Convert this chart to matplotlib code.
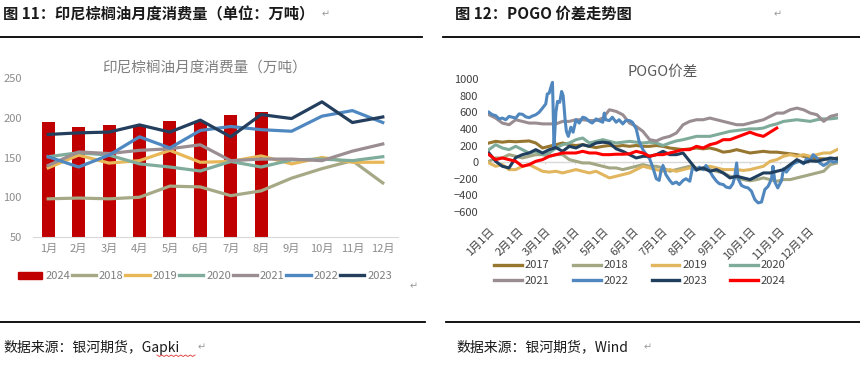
import numpy as np
import matplotlib
matplotlib.use('Agg')
import matplotlib.pyplot as plt
from matplotlib.lines import Line2D
from matplotlib.patches import Patch

plt.rcParams['font.family'] = ['Noto Sans CJK SC', 'DejaVu Sans']

# 图11 数据：印尼棕榈油月度消费量（万吨）
months = ['1月', '2月', '3月', '4月', '5月', '6月', '7月', '8月', '9月', '10月', '11月', '12月']
cons_2024 = [195, 188, 191, 190, 196, 195, 204, 207]
cons_2018 = [98, 99, 98, 100, 114, 113, 102, 108, 124, 136, 146, 118]
cons_2019 = [137, 153, 143, 146, 159, 144, 145, 152, 142, 150, 144, 144]
cons_2020 = [151, 156, 153, 142, 138, 133, 145, 138, 147, 148, 146, 151]
cons_2021 = [140, 157, 155, 159, 161, 166, 146, 148, 148, 146, 158, 167]
cons_2022 = [151, 138, 153, 176, 162, 184, 189, 185, 183, 202, 209, 194]
cons_2023 = [179, 181, 182, 191, 182, 197, 176, 204, 199, 220, 194, 201]

# 图12 数据：POGO价差（按周读取，第0天=1月1日）
week_days = np.arange(0, 365, 7)
pogo_2017 = [230, 250, 240, 250, 245, 250, 255, 230, 170, 190,
             210, 230, 210, 200, 210, 190, 175, 190, 200, 190,
             200, 190, 200, 190, 190, 200, 190, 170, 160, 150,
             160, 170, 160, 170, 150, 120, 130, 150, 130, 110,
             120, 130, 120, 120, 110, 100, 90, 70, 50, 40,
             40, 30, 50]
pogo_2018 = [10, 50, 50, 90, 70, 50, 70, 90, 90, 70,
             90, 90, 30, 10, -10, -10, -30, -50, -70, -70,
             -90, -70, -50, -30, -50, -50, -70, -110, -90, -70,
             -50, -70, -90, -90, -110, -130, -170, -190, -210, -225,
             -210, -190, -210, -230, -210, -210, -190, -170, -150, -130,
             -110, -30, -10]
pogo_2019 = [-10, -50, -30, -90, -90, -50, -30, -70, -110, -120,
             -110, -130, -110, -90, -110, -130, -110, -150, -190, -170,
             -150, -130, -90, -50, -70, -90, -110, -90, -110, -90,
             -70, -90, -70, -50, -70, -90, -90, -90, -100, -90,
             -70, -50, 10, 30, 70, 90, 70, 90, 70, 90,
             110, 110, 150]
pogo_2020 = [150, 210, 170, 150, 190, 150, 110, 130, 90, 110,
             170, 210, 230, 270, 290, 230, 250, 270, 250, 230,
             240, 250, 240, 230, 240, 230, 200, 230, 255, 270,
             290, 310, 310, 310, 330, 350, 370, 380, 390, 400,
             400, 410, 440, 460, 490, 500, 510, 500, 490, 510,
             520, 520, 530]
pogo_2021 = [570, 530, 470, 450, 510, 490, 470, 470, 460, 460,
             460, 490, 490, 510, 510, 500, 500, 530, 630, 610,
             570, 470, 430, 370, 270, 255, 290, 310, 350, 450,
             490, 510, 510, 530, 510, 490, 470, 450, 450, 470,
             490, 510, 550, 590, 590, 630, 650, 630, 590, 570,
             490, 550, 570]
pogo_2023 = [110, 10, -50, -70, 55, 90, 110, 150, 110, 150,
             175, 130, 190, 170, 210, 190, 230, 240, 230, 160,
             130, 90, 50, 70, 70, 90, 130, 90, 90, 110,
             10, -90, -70, -110, -90, -130, -190, -170, -190, -210,
             -170, -130, -130, -110, -90, -30, 30, -10, 15, 10,
             30, 50, 40]
pogo_2024 = [90, 30, 50, 30, 10, -50, -30, 10, 30, 70,
             90, 110, 110, 110, 130, 110, 110, 90, 90, 95,
             95, 100, 130, 110, 70, 90, 90, 110, 130, 150,
             150, 190, 170, 210, 230, 270, 270, 300, 330, 360,
             330, 310, 360, 410]
# 2022年波动剧烈，单独读取
days_2022 = [0, 3.5, 7, 10.5, 14, 17.5, 21, 24.5, 28, 31.5, 35, 38.5, 42, 45.5, 49, 52.5,
             56, 59.4, 61, 63, 64.7, 66.4, 67, 68, 70, 71.7, 74, 76, 77.6, 79.7, 81, 83,
             85.7, 88, 91, 94.4, 98, 101, 105, 108, 112, 115, 119, 120.6, 122, 126, 129,
             133, 136, 140, 143, 147, 150, 154, 157, 161, 164, 168, 171, 175, 178, 180,
             182, 185, 189, 192, 196, 199, 203, 206, 210, 213, 217, 220, 224, 227, 231,
             234, 238, 241, 245, 248, 252, 255, 257, 259, 260.5, 264, 267.5, 271, 274.5,
             278, 281.5, 285, 288.5, 292, 295.5, 297, 299, 302, 306, 308, 311, 315, 318,
             322, 325, 329, 332, 336, 339, 343, 346, 350, 353, 357, 360, 364]
pogo_2022 = [600, 570, 560, 520, 530, 510, 550, 540, 530, 580, 575, 545, 535, 555, 570, 600,
             650, 700, 820, 830, 900, 960, 700, 170, 600, 730, 720, 850, 800, 500, 370, 310,
             420, 360, 510, 470, 540, 530, 490, 470, 520, 500, 480, 590, 510, 500, 540,
             480, 510, 460, 500, 500, 480, 400, 250, 150, 100, 40, -50, -200, -220, -100,
             -40, -150, -220, -260, -240, -270, -220, -200, -230, -60, -100, -60, -90, -40,
             -110, -170, -230, -260, -270, -300, -310, -260, -180, -10, -200, -280, -300,
             -310, -350, -450, -490, -480, -330, -290, -200, -50, -240, -310, -220, -80,
             -120, -60, -20, 0, 10, -20, 40, 20, 90, 50, -10, -40, -20, 20, 0, 10]
tick_days = [0, 31, 59, 90, 120, 151, 181, 212, 243, 273, 304, 334]
tick_labels = ['1月1日', '2月1日', '3月1日', '4月1日', '5月1日', '6月1日',
               '7月1日', '8月1日', '9月1日', '10月1日', '11月1日', '12月1日']

W, H = 860, 370
fig = plt.figure(figsize=(W / 100, H / 100), dpi=100)


def fx(px):
    return px / W


def fy(py):
    return 1 - py / H


# 页面上的标题、分隔线、数据来源
fig.text(fx(3), fy(14), '图 11：印尼棕榈油月度消费量（单位：万吨）', fontsize=11,
         fontweight='bold', color='#1a1a1a', va='center', ha='left')
fig.text(fx(322), fy(14), '↵', fontsize=7, color='#999999', va='center')
fig.text(fx(455), fy(14), '图 12：POGO 价差走势图', fontsize=11,
         fontweight='bold', color='#1a1a1a', va='center', ha='left')
fig.text(fx(774), fy(14), '↵', fontsize=7, color='#999999', va='center')
for x0, x1, yy in [(0, 422, 37), (443, 860, 37), (0, 425, 322), (446, 860, 322)]:
    fig.add_artist(Line2D([fx(x0), fx(x1)], [fy(yy), fy(yy)], color='black', lw=1.3))
fig.text(fx(3), fy(347), '数据来源：银河期货，Gapki', fontsize=10, color='#1a1a1a', va='center')
fig.text(fx(198), fy(347), '↵', fontsize=7, color='#999999', va='center')
zz_x = np.linspace(157, 195, 17)
zz_y = 355 + np.where(np.arange(17) % 2 == 0, 0, 1.5)
fig.add_artist(Line2D(fx(zz_x), fy(zz_y), color='#e03030', lw=0.6))
fig.text(fx(456), fy(347), '数据来源：银河期货，Wind', fontsize=10, color='#1a1a1a', va='center')
fig.text(fx(644), fy(347), '↵', fontsize=7, color='#999999', va='center')
fig.text(fx(410), fy(286), '↵', fontsize=7, color='#999999', va='center')

# ---- 左图 ----
ax1 = fig.add_axes([fx(33), fy(237), fx(398 - 33), (237 - 78) / H])
x = np.arange(12)
ax1.bar(x[:len(cons_2024)], cons_2024, width=0.43, color='#C00000', zorder=2)
line_styles = [(cons_2018, '#A7A986', '2018'), (cons_2019, '#E8B757', '2019'),
               (cons_2020, '#80AC9C', '2020'), (cons_2021, '#9B8E93', '2021'),
               (cons_2022, '#4F88C1', '2022'), (cons_2023, '#243F5E', '2023')]
for vals, c, lab in line_styles:
    ax1.plot(x, vals, color=c, lw=2.3, zorder=3)
ax1.set_xlim(-0.5, 11.5)
ax1.set_ylim(50, 250)
ax1.set_yticks([50, 100, 150, 200, 250])
ax1.set_xticks(x)
ax1.set_xticklabels(months)
ax1.tick_params(length=0, labelsize=8, colors='#8C8C8C', pad=5)
ax1.tick_params(axis='y', pad=8)
for s in ['top', 'right', 'left']:
    ax1.spines[s].set_visible(False)
ax1.spines['bottom'].set_color('#D9D9D9')
ax1.set_title('印尼棕榈油月度消费量（万吨）', fontsize=10.5, color='#7F7F7F', pad=2, x=0.47, y=1.02)

handles1 = [Patch(color='#C00000')] + [Line2D([], [], color=c, lw=2.4) for _, c, _ in line_styles]
labels1 = ['2024'] + [lab for _, _, lab in line_styles]
leg1 = fig.legend(handles1, labels1, loc='center', bbox_to_anchor=(fx(205), fy(276)), ncol=7,
                  frameon=False, fontsize=8, handlelength=2.2, handletextpad=0.25,
                  columnspacing=0.15, handleheight=0.6)
for t in leg1.get_texts():
    t.set_color('#7F7F7F')

# ---- 右图 ----
ax2 = fig.add_axes([fx(488), fy(212), fx(838 - 488), (212 - 79) / H])
ax2.axhline(0, color='#D9D9D9', lw=1, zorder=1)
ax2.vlines(tick_days, -25, 0, color='#D9D9D9', lw=0.8, zorder=1)
series2 = [(week_days, pogo_2017, '#97762F', '2017'),
           (week_days, pogo_2018, '#A3A783', '2018'),
           (week_days, pogo_2019, '#E1B65E', '2019'),
           (week_days, pogo_2020, '#7EAB9A', '2020'),
           (week_days, pogo_2021, '#9A8D92', '2021'),
           (days_2022, pogo_2022, '#4F87BE', '2022'),
           (week_days, pogo_2023, '#203F5F', '2023'),
           (week_days[:len(pogo_2024)], pogo_2024, '#FF0000', '2024')]
for dd, vals, c, lab in series2:
    ax2.plot(dd, vals, color=c, lw=2.2, zorder=3)
ax2.set_xlim(-1, 365)
ax2.set_ylim(-600, 1000)
ax2.set_yticks(range(-600, 1001, 200))
ax2.set_xticks(tick_days)
ax2.set_xticklabels(tick_labels, rotation=45, ha='right', va='top', rotation_mode='anchor')
ax2.tick_params(length=0, labelsize=8, colors='#404040')
ax2.tick_params(axis='x', pad=10)
ax2.tick_params(axis='y', pad=7)
for s in ax2.spines.values():
    s.set_visible(False)
ax2.set_title('POGO价差', fontsize=10.5, color='#595959', pad=2, y=1.0)

# 图例按行排列：2017 2018 2019 2020 / 2021 2022 2023 2024
order = [0, 4, 1, 5, 2, 6, 3, 7]
handles2 = [Line2D([], [], color=series2[i][2], lw=2.4) for i in order]
labels2 = [series2[i][3] for i in order]
leg2 = fig.legend(handles2, labels2, loc='center', bbox_to_anchor=(fx(640), fy(273)), ncol=4,
                  frameon=False, fontsize=8, handlelength=2.5, handletextpad=0.25,
                  columnspacing=2.1, labelspacing=0.45)
for t in leg2.get_texts():
    t.set_color('#404040')

fig.savefig('out.png', dpi=100)
